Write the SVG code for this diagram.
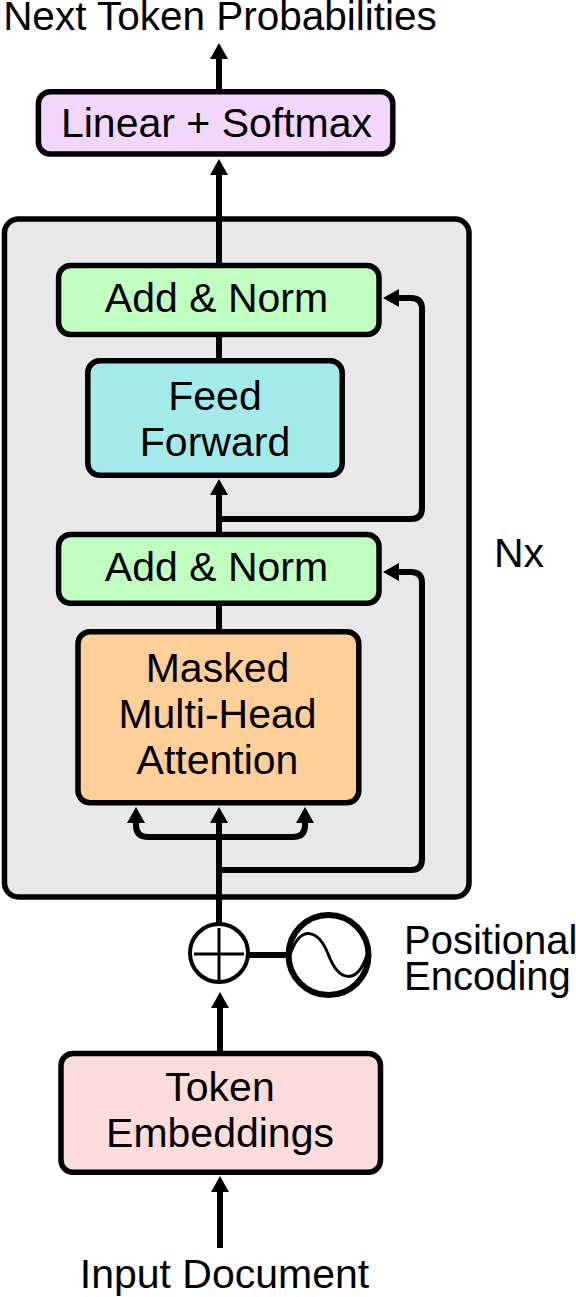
<svg xmlns="http://www.w3.org/2000/svg" width="576" height="1297" viewBox="0 0 576 1297">
<style>
text{font-family:"Liberation Sans",Arial,sans-serif;font-size:41px;fill:#000;}
.c{text-anchor:middle;}
.box{stroke:#000;stroke-width:5.5;}
.ln{fill:none;stroke:#000;stroke-width:6;}
</style>
<defs>
<marker id="ah" viewBox="0 0 16 18" refX="0" refY="9" markerWidth="16" markerHeight="18" markerUnits="userSpaceOnUse" orient="auto">
<path d="M0,0 L16,9 L0,18 z" fill="#000"/>
</marker>
</defs>
<rect id="stack" x="4.5" y="219" width="464.5" height="678" rx="14" fill="#e8e8e8" stroke="#000" stroke-width="5.5"/>
<g id="connectors">
<path class="ln" d="M219 92 V59" marker-end="url(#ah)"/>
<path class="ln" d="M219 266 V175" marker-end="url(#ah)"/>
<path class="ln" d="M219 334 V361"/>
<path class="ln" d="M219 535 V495" marker-end="url(#ah)"/>
<path class="ln" d="M219 519 H411 Q422 519 422 508 V309 Q422 298 411 298 H399" marker-end="url(#ah)"/>
<path class="ln" d="M219 603 V632"/>
<path class="ln" d="M219 924 V823" marker-end="url(#ah)"/>
<path class="ln" d="M219 837 H148 Q136 837 136 825 V823" marker-end="url(#ah)"/>
<path class="ln" d="M219 837 H293 Q305 837 305 825 V823" marker-end="url(#ah)"/>
<path class="ln" d="M219 870 H411 Q422 870 422 859 V583 Q422 572 411 572 H399" marker-end="url(#ah)"/>
<path class="ln" d="M247 955 H290"/>
<path class="ln" d="M220 1053 V1008" marker-end="url(#ah)"/>
<path class="ln" d="M220 1248 V1192" marker-end="url(#ah)"/>
</g>
<g id="output">
<text class="c" x="220" y="30" style="font-size:40.5px">Next Token Probabilities</text>
</g>
<g id="linear">
<rect class="box" x="38.4" y="91.8" width="354.4" height="62.2" rx="12" fill="#f3d6fb"/>
<text class="c" x="216.5" y="137">Linear + Softmax</text>
</g>
<g id="addnorm1">
<rect class="box" x="58.6" y="265.5" width="320.4" height="69" rx="12" fill="#bfffc0"/>
<text class="c" x="216.5" y="312">Add &amp; Norm</text>
</g>
<g id="feedforward">
<rect class="box" x="87.8" y="360.8" width="254.4" height="114.4" rx="12" fill="#a5eaea"/>
<text class="c" x="215" y="410">Feed</text>
<text class="c" x="215" y="456">Forward</text>
</g>
<g id="addnorm2">
<rect class="box" x="58.6" y="534.5" width="320.4" height="68.8" rx="12" fill="#bfffc0"/>
<text class="c" x="216.5" y="581">Add &amp; Norm</text>
</g>
<g id="mha">
<rect class="box" x="78" y="631.8" width="280.8" height="171" rx="12" fill="#ffcf99"/>
<text class="c" x="217.5" y="682">Masked</text>
<text class="c" x="217.5" y="728">Multi-Head</text>
<text class="c" x="217.5" y="774">Attention</text>
</g>
<g id="nx">
<text x="494" y="567">Nx</text>
</g>
<g id="plus">
<circle cx="219" cy="953" r="29" fill="#fff" stroke="#000" stroke-width="4"/>
<path d="M194 954 H244 M219 928 V980" stroke="#000" stroke-width="3" fill="none"/>
</g>
<g id="posenc">
<circle cx="328.5" cy="955" r="40" fill="#fff" stroke="#000" stroke-width="6"/>
<path d="M290 955 C300 925 318 928 328.5 955 C339 982 357 985 367 955" fill="none" stroke="#000" stroke-width="3"/>
<text x="404" y="954" style="font-size:40px">Positional</text>
<text x="404" y="990" style="font-size:40px">Encoding</text>
</g>
<g id="token">
<rect class="box" x="61" y="1053.5" width="319.5" height="118.8" rx="12" fill="#fddcdc"/>
<text class="c" x="220" y="1101">Token</text>
<text class="c" x="220" y="1147">Embeddings</text>
</g>
<g id="input">
<text class="c" x="224.5" y="1288">Input Document</text>
</g>
</svg>
